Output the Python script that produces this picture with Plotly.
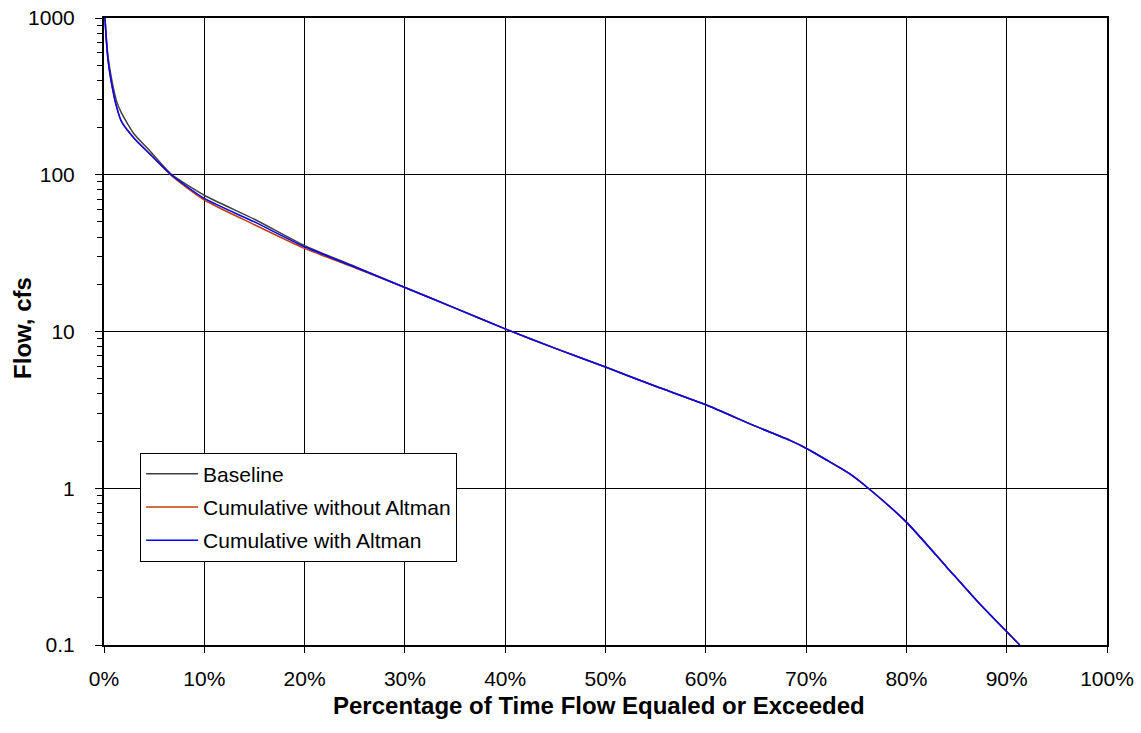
import plotly.graph_objects as go

pct = [0, 0.1, 0.4, 0.75, 1.25, 1.75, 3, 4.5, 6.7, 10, 15, 20, 25, 30, 35, 40, 45,
       50, 55, 60, 65, 68.4, 70, 72, 74.4, 76.2, 80, 84, 87.3, 91.3]

baseline = [1500, 1000, 570, 410, 295, 247, 182, 144, 101, 74, 52, 35.3, 26, 19.1, 14.1,
            10.4, 7.8, 5.93, 4.47, 3.41, 2.48, 2.02, 1.8, 1.52, 1.23, 1.0, 0.608,
            0.315, 0.183, 0.1]
without_altman = [1500, 1000, 540, 383, 272, 218, 171, 137, 99, 69, 48, 33.9, 25.5, 19.1,
                  14.1, 10.4, 7.8, 5.93, 4.47, 3.41, 2.48, 2.02, 1.8, 1.52, 1.23, 1.0,
                  0.608, 0.315, 0.183, 0.1]
with_altman = [1500, 1000, 540, 383, 272, 218, 171, 137, 100, 70.6, 50, 34.7, 25.8, 19.1,
               14.1, 10.4, 7.8, 5.93, 4.47, 3.41, 2.48, 2.02, 1.8, 1.52, 1.23, 1.0,
               0.608, 0.315, 0.183, 0.1]

series = [
    ("Baseline", baseline, "#404040"),
    ("Cumulative without Altman", without_altman, "#C04000"),
    ("Cumulative with Altman", with_altman, "#0000FF"),
]

x_title = "Percentage of Time Flow Equaled or Exceeded"
y_title = "Flow, cfs"

FONT = "Liberation Sans, Arial, sans-serif"
FS = 21
TFS = 24

fig = go.Figure()
for name, vals, color in series:
    fig.add_trace(go.Scatter(
        x=pct, y=vals, mode="lines", name=name, legendgroup=name,
        line=dict(color=color, width=1.5, shape="spline", smoothing=0.6),
    ))

fig.update_layout(
    width=1141, height=733,
    margin=dict(l=104, r=34, t=18, b=88, autoexpand=False),
    paper_bgcolor="white", plot_bgcolor="white",
    font=dict(family=FONT, size=FS, color="black"),
    showlegend=True,
    legend=dict(
        x=0.036, y=0.307, xanchor="left", yanchor="top",
        bgcolor="white", bordercolor="black", borderwidth=1,
        font=dict(family=FONT, size=FS, color="black"),
        tracegroupgap=3, traceorder="grouped", itemwidth=52,
    ),
    annotations=[
        dict(text="<b>" + x_title + "</b>", xref="paper", yref="paper",
             x=0.494, y=-0.0957, xanchor="center", yanchor="middle",
             showarrow=False, font=dict(family=FONT, size=TFS, color="black")),
        dict(text="<b>" + y_title + "</b>", xref="paper", yref="paper",
             x=-0.0808, y=0.5056, xanchor="center", yanchor="middle", textangle=-90,
             showarrow=False, font=dict(family=FONT, size=TFS, color="black")),
    ],
)

fig.update_xaxes(
    range=[0, 100], tick0=0, dtick=10, ticksuffix="%",
    showgrid=True, gridcolor="black", gridwidth=1,
    showline=True, linecolor="black", linewidth=2, mirror=True,
    ticks="outside", ticklen=6, tickcolor="black", tickwidth=1,
    ticklabelstandoff=8,
    zeroline=False,
    automargin=False,
)

fig.update_yaxes(
    type="log", range=[-1, 3],
    tickvals=[0.1, 1, 10, 100, 1000], ticktext=["0.1", "1", "10", "100", "1000"],
    showgrid=True, gridcolor="black", gridwidth=1,
    showline=True, linecolor="black", linewidth=2, mirror=True,
    ticks="outside", ticklen=7, tickcolor="black", tickwidth=1,
    ticklabelstandoff=16,
    minor=dict(ticks="outside", ticklen=5, tickcolor="black", tickwidth=1,
               dtick="D1", showgrid=False),
    zeroline=False,
    automargin=False,
)

fig.write_html("out.html")
